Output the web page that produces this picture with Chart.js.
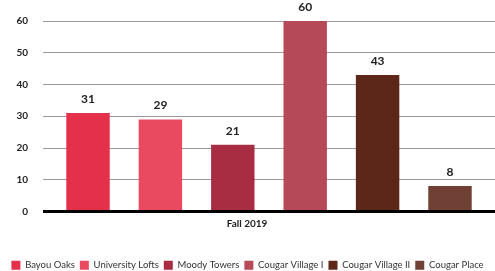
<!DOCTYPE html>
<html lang="en">
<head>
    <meta charset="UTF-8">
    <title>Fall 2019</title>
    <style>
        html, body { margin: 0; padding: 0; background: #fff; }
        #wrap { width: 495px; height: 271px; }
    </style>
</head>
<body>
    <div id="wrap"><canvas id="chart"></canvas></div>
    <script src="https://cdn.jsdelivr.net/npm/chart.js"></script>
    <script>
        const categories = ['Fall 2019'];
        const halls = ['Bayou Oaks', 'University Lofts', 'Moody Towers', 'Cougar Village I', 'Cougar Village II', 'Cougar Place'];
        const values = [31, 29, 21, 60, 43, 8];
        const colors = ['#e5304b', '#e94a60', '#a82c42', '#b64958', '#5c2719', '#714034'];
        const yTicks = [0, 10, 20, 30, 40, 50, 60];

        const font = 'Lato, "Open Sans", Arial, sans-serif';

        // value labels above each bar, legend nudged down a bit
        const valueLabels = {
            id: 'valueLabels',
            afterLayout(chart) {
                const lg = chart.legend;
                lg.top += 9;
                lg.bottom += 9;
            },
            afterDatasetsDraw(chart) {
                const c = chart.ctx;
                c.save();
                c.font = 'bold 12px ' + font;
                c.fillStyle = '#222';
                c.textAlign = 'center';
                c.textBaseline = 'bottom';
                chart.data.datasets.forEach((ds, i) => {
                    chart.getDatasetMeta(i).data.forEach((bar, j) => {
                        c.fillText(ds.data[j], bar.x, bar.y - 8);
                    });
                });
                c.restore();
            }
        };

        new Chart(document.getElementById('chart'), {
            type: 'bar',
            data: {
                labels: categories,
                datasets: halls.map((h, i) => ({
                    label: h,
                    data: [values[i]],
                    backgroundColor: colors[i],
                    borderWidth: 0
                }))
            },
            options: {
                responsive: true,
                maintainAspectRatio: false,
                animation: false,
                categoryPercentage: 0.961,
                barPercentage: 0.6,
                layout: { padding: { top: -3, right: 0, left: 0, bottom: 0 } },
                plugins: {
                    legend: {
                        position: 'bottom',
                        labels: {
                            font: { family: font, size: 9.5 },
                            color: '#333',
                            boxWidth: 9,
                            boxHeight: 9,
                            padding: 5
                        }
                    },
                    tooltip: { enabled: false }
                },
                scales: {
                    x: {
                        grid: { display: false },
                        border: { display: false },
                        afterFit(axis) { axis.height += 19; },
                        ticks: {
                            font: { family: font, size: 10, weight: 'bold' },
                            color: '#222',
                            labelOffset: -22,
                            padding: -2
                        }
                    },
                    y: {
                        min: 0,
                        max: 60,
                        z: 1,
                        afterBuildTicks(axis) {
                            axis.ticks = yTicks.map(v => ({ value: v }));
                        },
                        afterFit(axis) { axis.width = 43; },
                        border: { display: false },
                        grid: {
                            drawTicks: false,
                            color: ctx => ctx.tick.value === 0 ? '#000' : 'rgba(120,120,120,0.75)',
                            lineWidth: ctx => ctx.tick.value === 0 ? 3 : 1
                        },
                        ticks: {
                            font: { family: font, size: 10, weight: 'bold' },
                            color: '#222',
                            padding: 15
                        }
                    }
                }
            },
            plugins: [valueLabels]
        });
    </script>
</body>
</html>
